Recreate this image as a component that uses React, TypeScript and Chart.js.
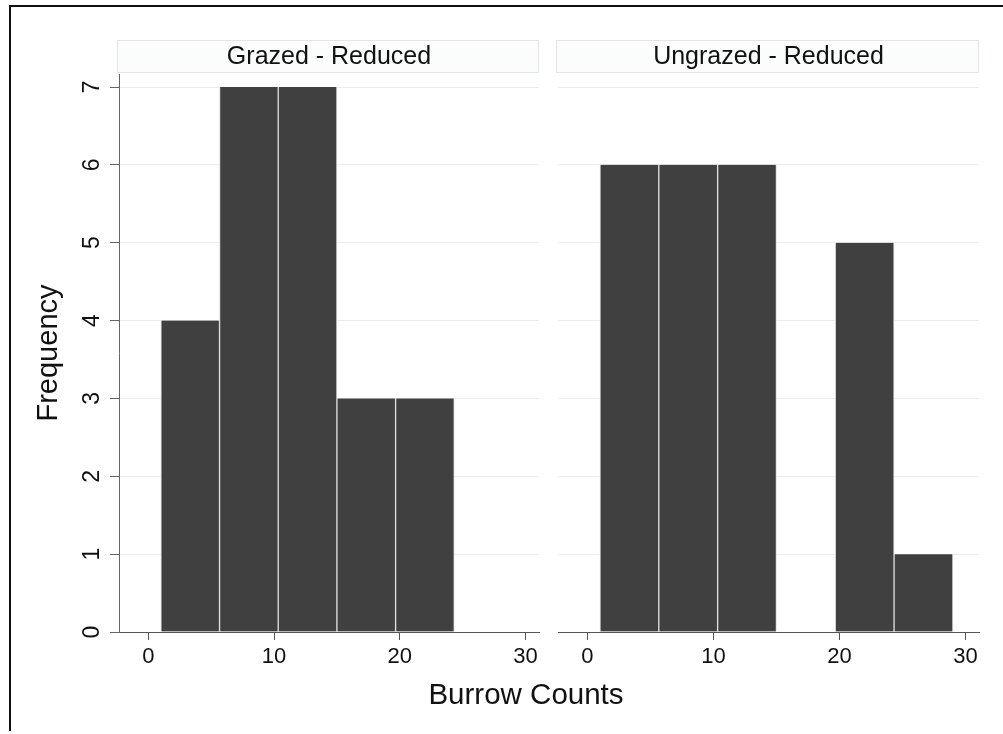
import React, { useEffect, useRef } from "react";
import { Chart, registerables } from "chart.js";

Chart.register(...registerables);

// ---- data ----
const binCenters = [3.333, 8, 12.667, 17.333, 22, 26.667];
const grazedCounts = [4, 7, 7, 3, 3, 0];
const ungrazedCounts = [6, 6, 6, 0, 5, 1];
const panelTitles = ["Grazed - Reduced", "Ungrazed - Reduced"];
const xTicks = [0, 10, 20, 30];
const yTicks = [0, 1, 2, 3, 4, 5, 6, 7];
const xLabel = "Burrow Counts";
const yLabel = "Frequency";

const FONT = "'Liberation Sans', Arial, Helvetica, sans-serif";
const X_MIN = -2.33;
const X_MAX = 31.07;
const Y_MAX = 7.167;

const stripPlugin = {
  id: "strip",
  beforeDraw(chart: any) {
    const tb = chart.titleBlock;
    const ca = chart.chartArea;
    if (!tb || !ca) return;
    const ctx = chart.ctx;
    ctx.save();
    ctx.fillStyle = "#fbfcfc";
    ctx.strokeStyle = "#e0e5e7";
    ctx.lineWidth = 1;
    const x = Math.round(ca.left) - 2 + 0.5;
    const y = Math.round(tb.top) + 0.5;
    const w = Math.round(ca.right - ca.left) + 1;
    const h = Math.round(tb.bottom - tb.top) - 2;
    ctx.fillRect(x, y, w, h);
    ctx.strokeRect(x, y, w, h);
    ctx.restore();
  },
};

function makeConfig(counts: number[], title: string, showY: boolean, padding: any): any {
  const gridColor = (c: any) => (c.tick && c.tick.value === 0 ? "rgba(0,0,0,0)" : "#eceff1");
  return {
    type: "bar",
    data: {
      datasets: [
        {
          data: binCenters.map((c, i) => ({ x: c, y: counts[i] })),
          backgroundColor: "#404040",
          borderColor: "#dcdcdc",
          borderWidth: { left: 1, right: 1, top: 0, bottom: 0 },
          borderSkipped: false,
          barPercentage: 1,
          categoryPercentage: 1,
        },
      ],
    },
    options: {
      responsive: false,
      animation: false,
      layout: { padding },
      plugins: {
        legend: { display: false },
        tooltip: { enabled: false },
        title: {
          display: true,
          text: title,
          fullSize: false,
          color: "#111",
          font: { family: FONT, size: 25, weight: "normal", lineHeight: 1.2 },
          padding: { top: 2, bottom: 2 },
        },
      },
      scales: {
        x: {
          type: "linear",
          min: X_MIN,
          max: X_MAX,
          offset: false,
          afterBuildTicks: (s: any) => {
            s.ticks = xTicks.map((v) => ({ value: v }));
          },
          afterFit: (s: any) => {
            s.height = 102;
          },
          grid: {
            offset: false,
            drawOnChartArea: false,
            drawTicks: true,
            tickLength: 8,
            tickColor: "#555",
            color: "#555",
          },
          border: { display: true, color: "#555", width: 1 },
          ticks: {
            padding: 4,
            color: "#111",
            maxRotation: 0,
            autoSkip: false,
            font: { family: FONT, size: 22 },
          },
        },
        y: showY
          ? {
              type: "linear",
              min: 0,
              max: Y_MAX,
              afterBuildTicks: (s: any) => {
                s.ticks = yTicks.map((v) => ({ value: v }));
              },
              afterFit: (s: any) => {
                s.width = 119;
              },
              grid: {
                color: gridColor,
                drawTicks: true,
                tickLength: 9,
                tickColor: "#666",
              },
              border: { display: true, color: "#666", width: 1 },
              ticks: {
                minRotation: 90,
                maxRotation: 90,
                crossAlign: "center",
                padding: 11,
                color: "#111",
                autoSkip: false,
                font: { family: FONT, size: 23 },
              },
              title: {
                display: true,
                text: yLabel,
                color: "#111",
                font: { family: FONT, size: 29 },
                padding: { top: 32, bottom: 0 },
              },
            }
          : {
              type: "linear",
              min: 0,
              max: Y_MAX,
              afterBuildTicks: (s: any) => {
                s.ticks = yTicks.map((v) => ({ value: v }));
              },
              afterFit: (s: any) => {
                s.width = 0;
              },
              grid: { color: gridColor, drawTicks: false },
              border: { display: false },
              ticks: { display: false },
            },
      },
    },
    plugins: [stripPlugin],
  };
}

function Panel(props: { counts: number[]; title: string; showY: boolean; left: number; width: number; padding: any }) {
  const ref = useRef<HTMLCanvasElement>(null);
  useEffect(() => {
    if (!ref.current) return;
    const chart = new Chart(ref.current, makeConfig(props.counts, props.title, props.showY, props.padding));
    return () => chart.destroy();
  }, []);
  return (
    <canvas
      ref={ref}
      width={props.width}
      height={734}
      style={{ position: "absolute", left: props.left, top: 0, width: props.width, height: 734 }}
    />
  );
}

export default function App() {
  return (
    <div
      style={{
        position: "fixed",
        left: 0,
        top: 0,
        width: 1003,
        height: 734,
        overflow: "hidden",
        background: "#fff",
      }}
    >
      <div
        style={{
          position: "absolute",
          left: 9,
          top: 5,
          width: 1100,
          height: 724,
          borderTop: "2px solid #111",
          borderLeft: "2px solid #111",
        }}
      />
      <Panel counts={grazedCounts} title={panelTitles[0]} showY={true} left={0} width={548} padding={{ left: 0, right: 9, top: 40, bottom: 0 }} />
      <Panel counts={ungrazedCounts} title={panelTitles[1]} showY={false} left={548} width={455} padding={{ left: 10, right: 24, top: 40, bottom: 0 }} />
      <div
        style={{
          position: "absolute",
          left: 326,
          width: 400,
          top: 679,
          height: 30,
          lineHeight: "30px",
          textAlign: "center",
          fontFamily: FONT,
          fontSize: 29.5,
          color: "#111",
        }}
      >
        {xLabel}
      </div>
    </div>
  );
}
